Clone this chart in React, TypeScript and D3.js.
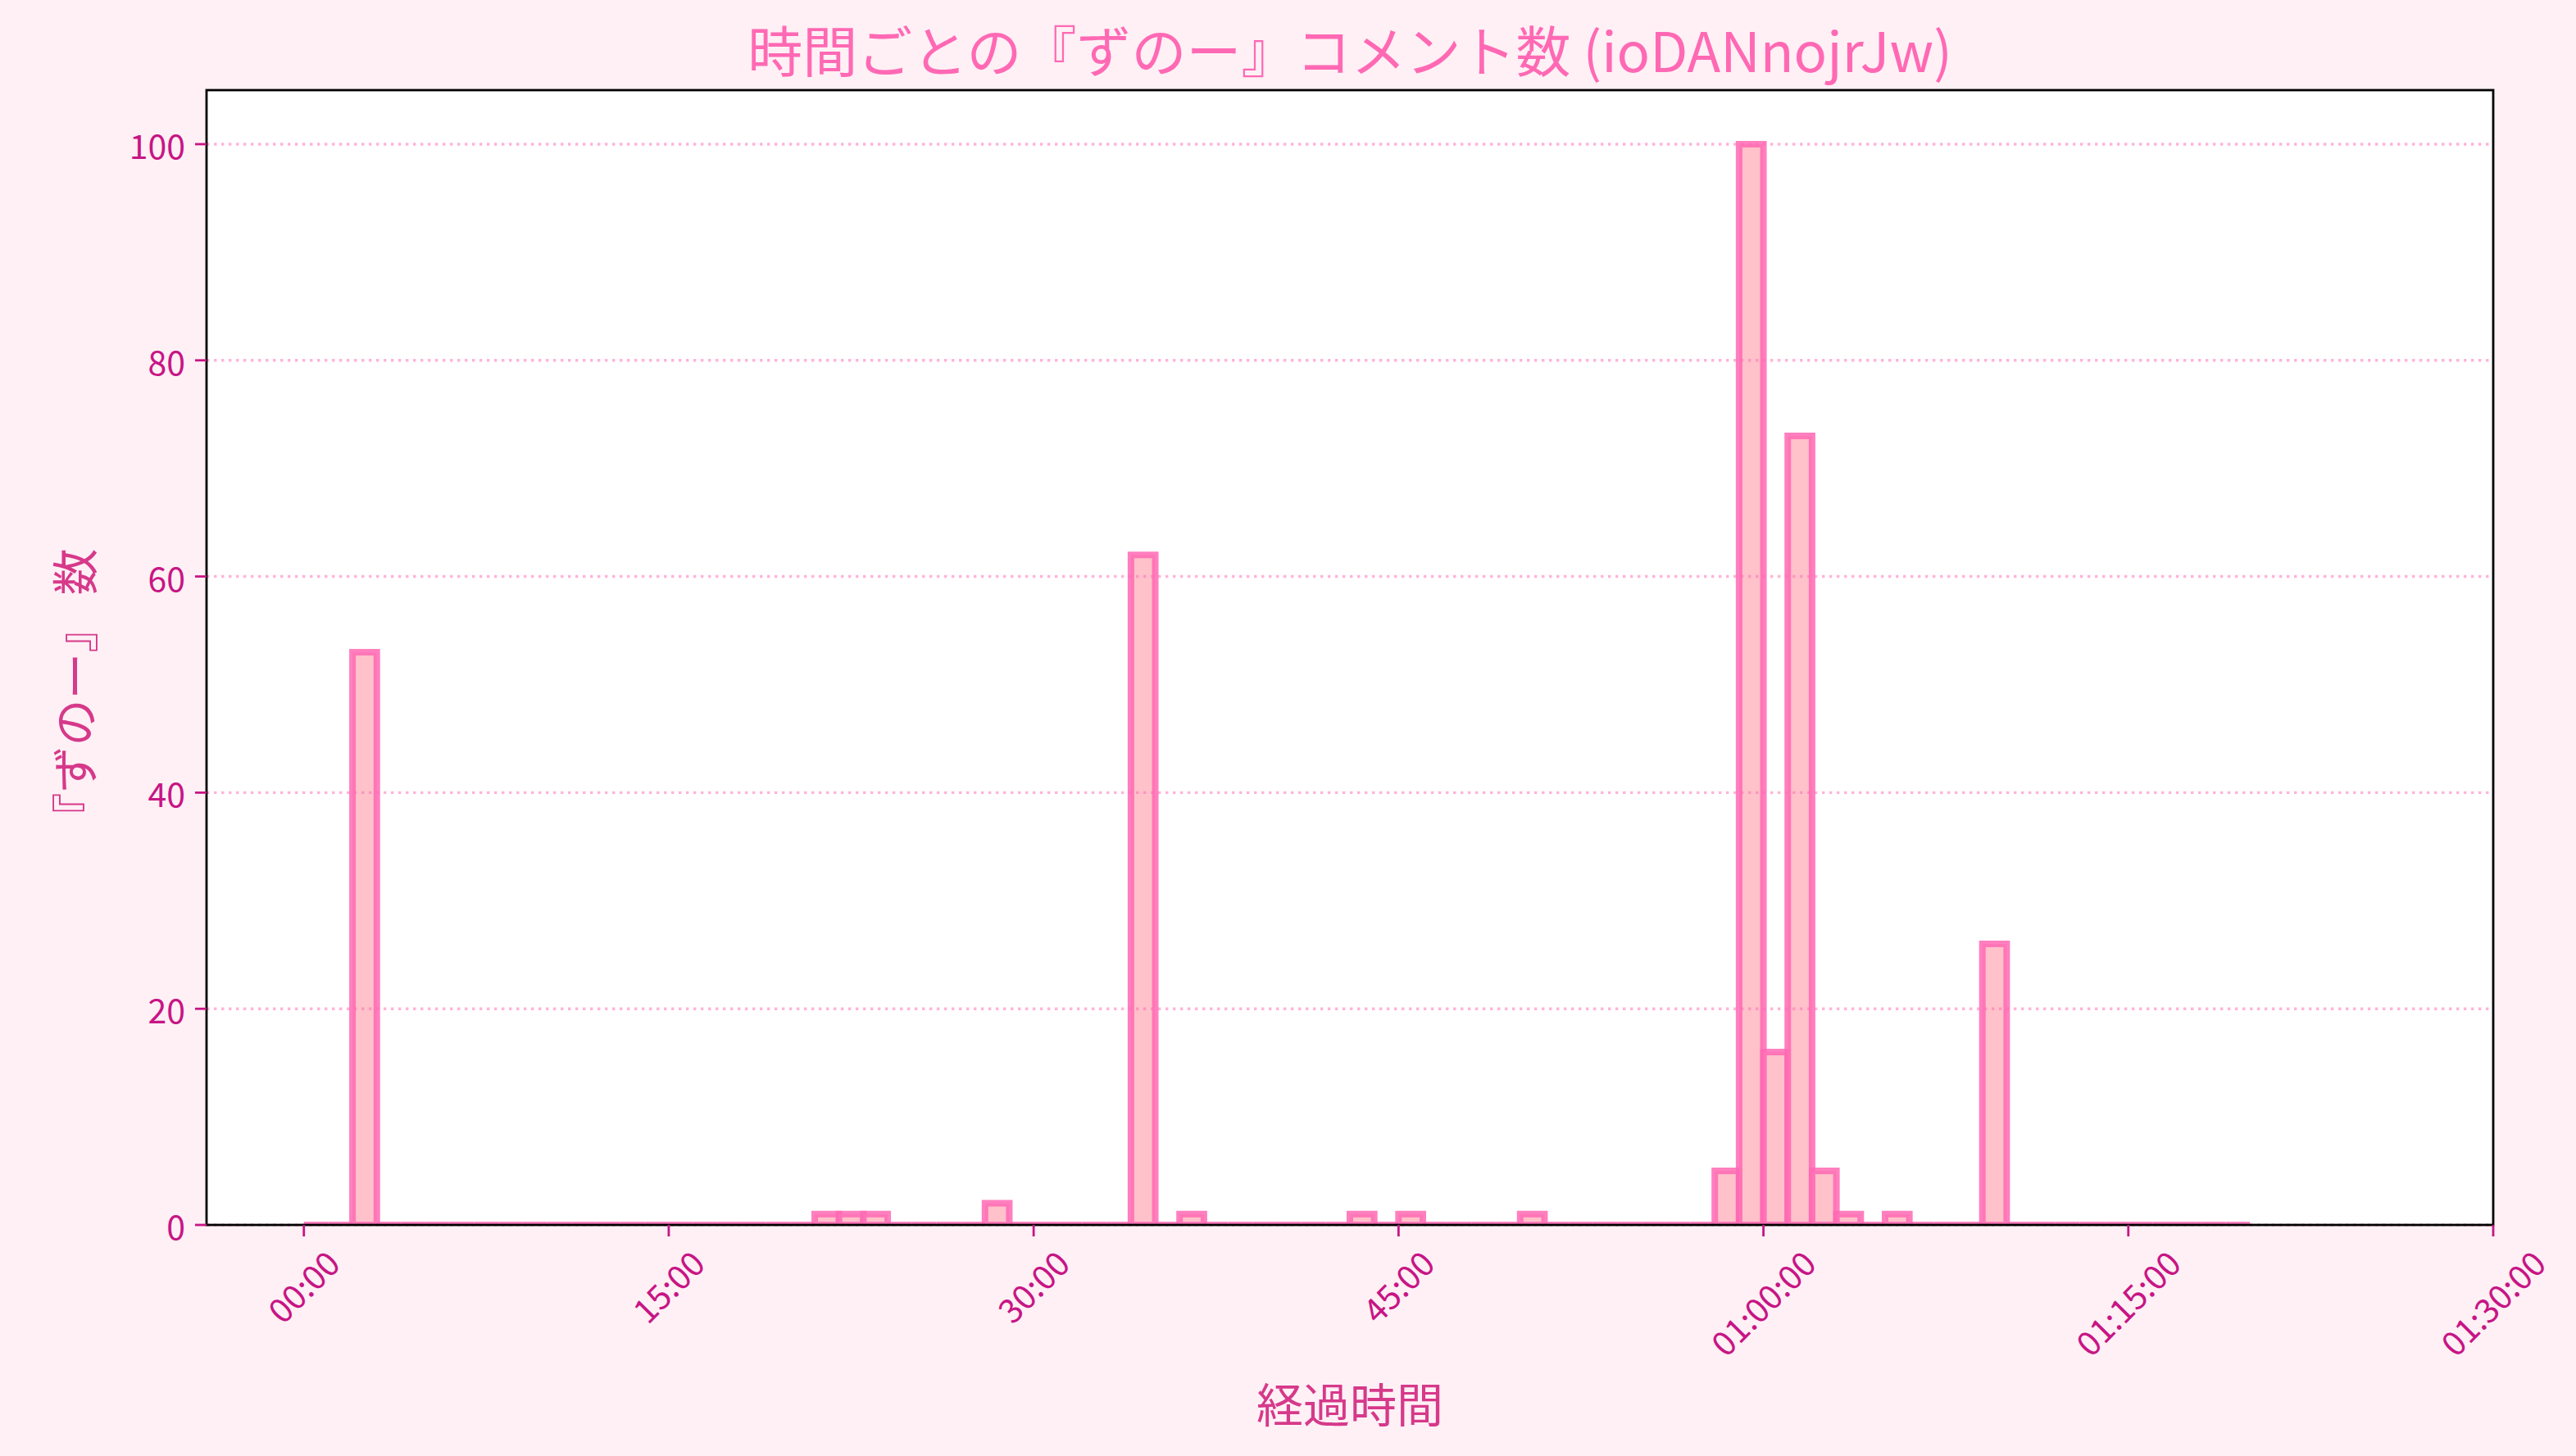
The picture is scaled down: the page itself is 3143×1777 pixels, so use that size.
import React from "react";
import * as d3 from "d3";

// ---- data ----
const BIN_MINUTES = 1;
const binCounts: number[] = [
  0, 0, 53, 0, 0, 0, 0, 0, 0, 0,
  0, 0, 0, 0, 0, 0, 0, 0, 0, 0,
  0, 1, 1, 1, 0, 0, 0, 0, 2, 0,
  0, 0, 0, 0, 62, 0, 1, 0, 0, 0,
  0, 0, 0, 1, 0, 1, 0, 0, 0, 0,
  1, 0, 0, 0, 0, 0, 0, 0, 5, 100,
  16, 73, 5, 1, 0, 1, 0, 0, 0, 26,
  0, 0, 0, 0, 0, 0, 0, 0, 0, 0,
];
const xTickMinutes = [0, 15, 30, 45, 60, 75, 90];
const xTickLabels = ["00:00", "15:00", "30:00", "45:00", "01:00:00", "01:15:00", "01:30:00"];
const yTicks = [0, 20, 40, 60, 80, 100];
const titleText = "時間ごとの『ずのー』コメント数 (ioDANnojrJw)";
const xLabelText = "経過時間";
const yLabelText = "『ずのー』 数";

// ---- layout ----
const W = 3143;
const H = 1777;
const L = 252, R = 3042, T = 110, B = 1495;
const FONT = '"Noto Sans CJK JP", "Noto Sans", sans-serif';
const TICK_FS = 41;

function measure(text: string, size: number): number {
  try {
    const c = document.createElement("canvas");
    const ctx = c.getContext("2d")!;
    ctx.font = `${size}px "Noto Sans CJK JP"`;
    return ctx.measureText(text).width;
  } catch (e) {
    return text.length * size * 0.5;
  }
}

export default function App() {
  const x = d3.scaleLinear().domain([-4, 90]).range([L, R]);
  const y = d3.scaleLinear().domain([0, 105]).range([B, T]);
  const tickColor = "#C71585";
  const labelColor = "#D6398A";

  return (
    <svg
      width={W}
      height={H}
      style={{ position: "absolute", left: 0, top: 0, display: "block" }}
      fontFamily={FONT}
    >
      <defs>
        <clipPath id="axclip">
          <rect x={L} y={T} width={R - L} height={B - T} />
        </clipPath>
      </defs>
      <rect x={0} y={0} width={W} height={H} fill="#FFF0F5" />
      <rect x={L} y={T} width={R - L} height={B - T} fill="#FFFFFF" />

      {/* bars */}
      <g clipPath="url(#axclip)">
        {binCounts.map((c, i) => {
          const x0 = x(i * BIN_MINUTES);
          const x1 = x((i + 1) * BIN_MINUTES);
          const y0 = y(0);
          const y1 = y(c);
          const p = d3.path();
          p.moveTo(x0, y0);
          p.lineTo(x0, y1);
          p.lineTo(x1, y1);
          p.lineTo(x1, y0);
          p.closePath();
          return (
            <path
              key={i}
              d={p.toString()}
              fill="#FFB6C1"
              fillOpacity={0.85}
              stroke="#FF69B4"
              strokeOpacity={0.85}
              strokeWidth={8}
              strokeLinejoin="miter"
            />
          );
        })}
      </g>

      {/* grid */}
      <g>
        {yTicks.map((t) => (
          <line
            key={t}
            x1={L}
            x2={R}
            y1={y(t)}
            y2={y(t)}
            stroke="#FF69B4"
            strokeOpacity={0.5}
            strokeWidth={3.4}
            strokeDasharray="3.4,5.6"
          />
        ))}
      </g>

      {/* spines */}
      <rect x={L} y={T} width={R - L} height={B - T} fill="none" stroke="#000" strokeWidth={2.8} />

      {/* y ticks */}
      <g>
        {yTicks.map((t) => (
          <g key={t}>
            <line x1={L - 14} x2={L} y1={y(t)} y2={y(t)} stroke={tickColor} strokeWidth={2.8} />
            <text
              x={L - 14 - 12}
              y={y(t)}
              textAnchor="end"
              dominantBaseline="central"
              fontSize={TICK_FS}
              fill={tickColor}
            >
              {t}
            </text>
          </g>
        ))}
      </g>

      {/* x ticks */}
      <g>
        {xTickMinutes.map((m, i) => {
          const label = xTickLabels[i];
          const w = measure(label, TICK_FS);
          const h = TICK_FS * 1.0;
          const cx = x(m);
          const cy = B + 14 + 9 + (w + h) * 0.3536;
          return (
            <g key={m}>
              <line x1={cx} x2={cx} y1={B} y2={B + 14} stroke={tickColor} strokeWidth={2.8} />
              <text
                transform={`translate(${cx - 2},${cy}) rotate(-45)`}
                textAnchor="middle"
                dominantBaseline="central"
                fontSize={TICK_FS}
                fill={tickColor}
              >
                {label}
              </text>
            </g>
          );
        })}
      </g>

      {/* labels */}
      <text
        x={(L + R) / 2}
        y={1711}
        textAnchor="middle"
        dominantBaseline="central"
        fontSize={57}
        fill={labelColor}
      >
        {xLabelText}
      </text>
      <text
        transform={`translate(88,847) rotate(-90)`}
        textAnchor="middle"
        dominantBaseline="central"
        fontSize={57}
        fill={labelColor}
      >
        {yLabelText}
      </text>
      <text
        x={(L + R) / 2}
        y={58}
        textAnchor="middle"
        dominantBaseline="central"
        fontSize={67}
        fill="#FF69B4"
      >
        {titleText}
      </text>
    </svg>
  );
}
